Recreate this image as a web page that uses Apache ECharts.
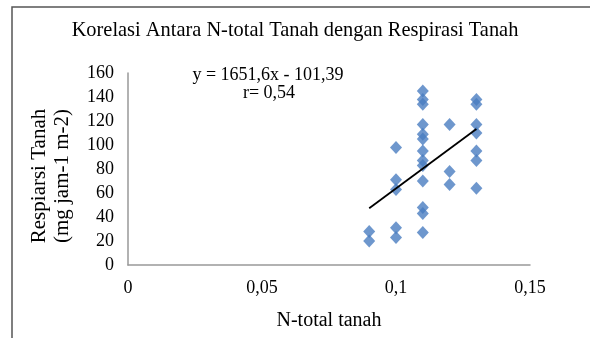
<!DOCTYPE html>
<html>
<head>
<meta charset="utf-8">
<script src="https://cdn.jsdelivr.net/npm/echarts@6/dist/echarts.min.js"></script>
<style>
  html, body { margin: 0; padding: 0; background: #fff; }
  #chart { width: 590px; height: 338px; }
</style>
</head>
<body>
<div id="chart"></div>
<script>
// data
var nTotal = [
  0.09, 0.09,
  0.10, 0.10, 0.10, 0.10, 0.10,
  0.11, 0.11, 0.11, 0.11, 0.11, 0.11, 0.11, 0.11, 0.11, 0.11, 0.11, 0.11, 0.11,
  0.12, 0.12, 0.12,
  0.13, 0.13, 0.13, 0.13, 0.13, 0.13, 0.13
];
var respirasi = [
  28, 20,
  98, 71, 63, 31, 23,
  145, 138, 134, 117, 109, 105, 95, 87, 83, 70, 48, 43, 27,
  117, 78, 67,
  138, 134, 117, 110, 95, 87, 64
];
// trendline from the shown equation y = 1651,6x - 101,39
var slope = 1651.6;
var intercept = -101.39;
var trendX = [0.09, 0.13];
var xTicks = [0, 0.05, 0.1, 0.15];
var yTicks = [0, 20, 40, 60, 80, 100, 120, 140, 160];

var serif = '"Liberation Serif", "DejaVu Serif", serif';

var points = nTotal.map(function (x, i) { return [x, respirasi[i]]; });
var trend = trendX.map(function (x) { return [x, slope * x + intercept]; });

function comma(v) {
  return String(+v.toFixed(2)).replace('.', ',');
}

var myChart = echarts.init(document.getElementById('chart'));
var option = {
  animation: false,
  title: {
    text: 'Korelasi Antara N-total Tanah dengan Respirasi Tanah',
    left: 'center',
    top: 16,
    textStyle: { fontFamily: serif, fontSize: 20.4, fontWeight: 'normal', color: '#000' }
  },
  grid: { left: 128, right: 60, top: 73, bottom: 73 },
  xAxis: {
    type: 'value',
    min: xTicks[0],
    max: xTicks[xTicks.length - 1],
    interval: 0.05,
    name: 'N-total tanah',
    nameLocation: 'middle',
    nameGap: 46,
    nameTextStyle: { fontFamily: serif, fontSize: 20, color: '#000' },
    axisLine: { lineStyle: { color: '#999', width: 1.5 } },
    axisTick: { show: false },
    splitLine: { show: false },
    axisLabel: { fontFamily: serif, fontSize: 18, color: '#000', margin: 14, formatter: comma }
  },
  yAxis: {
    type: 'value',
    min: yTicks[0],
    max: yTicks[yTicks.length - 1],
    interval: 20,
    name: 'Respiarsi Tanah\n(mg jam-1 m-2)',
    nameLocation: 'middle',
    nameGap: 54,
    nameTextStyle: {
      fontFamily: serif, fontSize: 21, color: '#000', lineHeight: 23,
      padding: [0, 14, 0, 0]
    },
    axisLine: { show: true, lineStyle: { color: '#999', width: 1.5 } },
    axisTick: { show: false },
    splitLine: { show: false },
    axisLabel: { fontFamily: serif, fontSize: 18, color: '#000', margin: 14 }
  },
  graphic: [
    {
      type: 'polyline',
      shape: { points: [[12, 338], [12, 7], [590, 7]] },
      style: { stroke: '#555', lineWidth: 1.5, fill: null }
    },
    {
      type: 'text',
      x: 268,
      y: 75,
      style: {
        text: 'y = 1651,6x - 101,39',
        align: 'center', verticalAlign: 'middle',
        fontFamily: serif, fontSize: 18, fill: '#000'
      }
    },
    {
      type: 'text',
      x: 269,
      y: 93,
      style: {
        text: 'r= 0,54',
        align: 'center', verticalAlign: 'middle',
        fontFamily: serif, fontSize: 18, fill: '#000'
      }
    }
  ],
  series: [
    {
      name: 'Respirasi',
      type: 'scatter',
      symbol: 'diamond',
      symbolSize: [12, 13],
      itemStyle: { color: '#4A7DC0' },
      data: points,
      z: 2
    },
    {
      name: 'Trend',
      type: 'line',
      data: trend,
      symbol: 'none',
      lineStyle: { color: '#000', width: 1.8 },
      z: 3
    }
  ]
};
myChart.setOption(option, (window.onresize = myChart.resize));
</script>
</body>
</html>
